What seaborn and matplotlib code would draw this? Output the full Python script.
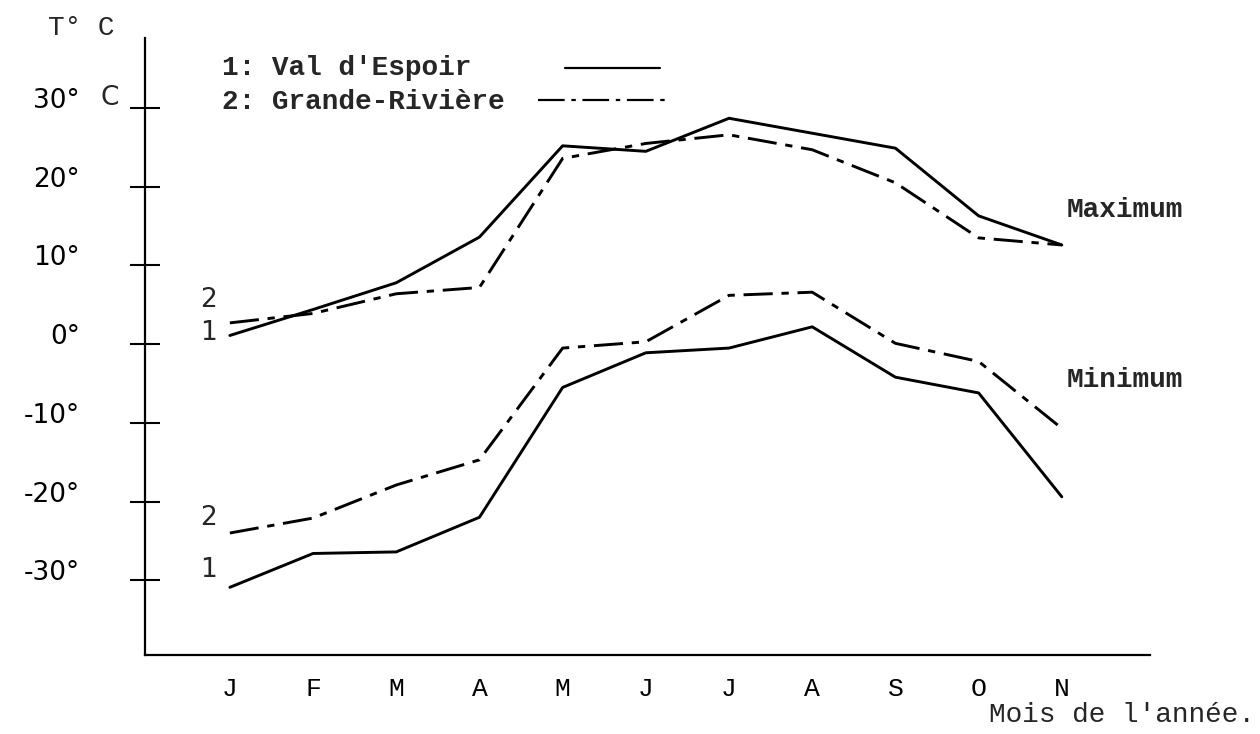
import matplotlib
matplotlib.use("Agg")
import matplotlib.pyplot as plt
import pandas as pd
import seaborn as sns

# Data (degrees C), months Jan..Nov
months = ['J', 'F', 'M', 'A', 'M', 'J', 'J', 'A', 'S', 'O', 'N']
max_val_espoir = [1.1, 4.4, 7.8, 13.6, 25.2, 24.5, 28.7, 26.8, 24.9, 16.3, 12.6]
max_grande_riviere = [2.7, 3.9, 6.4, 7.2, 23.6, 25.5, 26.6, 24.7, 20.5, 13.5, 12.6]
min_val_espoir = [-30.9, -26.6, -26.4, -22.0, -5.5, -1.1, -0.5, 2.2, -4.2, -6.2, -19.4]
min_grande_riviere = [-24.0, -22.1, -17.9, -14.7, -0.5, 0.3, 6.2, 6.6, 0.1, -2.2, -10.7]
ytick_vals = [-30, -20, -10, 0, 10, 20, 30]
ytick_labels = ['-30°', '-20°', '-10°', '0°', '10°', '20°', '30°']

rows = []
for station, kind, vals in [('1', 'max', max_val_espoir), ('2', 'max', max_grande_riviere),
                            ('1', 'min', min_val_espoir), ('2', 'min', min_grande_riviere)]:
    for i, v in enumerate(vals):
        rows.append({'pos': i, 'temp': v, 'station': station, 'kind': kind})
df = pd.DataFrame(rows)

sns.set_style('white')
mono = ['Liberation Mono', 'DejaVu Sans Mono']
sans = ['DejaVu Sans']

W, H = 1260, 734
fig = plt.figure(figsize=(12.6, 7.34), dpi=100)
ax = fig.add_axes([145 / W, 1 - 655 / H, (1150 - 145) / W, (655 - 38) / H])

sns.lineplot(data=df, x='pos', y='temp', style='station', units='kind', estimator=None,
             dashes={'1': '', '2': (10, 3, 2.5, 3)}, color='black', linewidth=2.1,
             legend=False, ax=ax)

ax.set_xlim(-1.02, 11.06)
ax.set_ylim(-39.5, 38.9)
for s in ['top', 'right']:
    ax.spines[s].set_visible(False)
for s in ['left', 'bottom']:
    ax.spines[s].set_linewidth(1.6)
    ax.spines[s].set_color('black')

ax.set_yticks(ytick_vals)
ax.set_yticklabels(ytick_labels, fontsize=19, family=sans, va='baseline', color='black')
ax.tick_params(axis='y', left=True, direction='inout', length=22, width=1.5, pad=36,
               color='black')
ax.set_xticks(range(len(months)))
ax.set_xticklabels(months, fontsize=19, family=mono, color='black')
ax.tick_params(axis='x', bottom=False, length=0, pad=16)
ax.set_xlabel('')
ax.set_ylabel('')

def fx(px):
    return px / W

def fy(py):
    return 1 - py / H

# axis titles
fig.text(fx(81), fy(28), 'T° C', fontsize=20, family=mono, ha='center', va='center')
fig.text(fx(100), fy(105), 'C', fontsize=19, family=sans, ha='left', va='baseline')
fig.text(fx(1255), fy(715), "Mois de l'année.", fontsize=20, family=mono,
         ha='right', va='center')

# legend drawn by hand
fig.text(fx(222), fy(68), "1: Val d'Espoir", fontsize=20, family=mono, fontweight='bold',
         va='center')
fig.text(fx(222), fy(102), "2: Grande-Rivière", fontsize=20, family=mono, fontweight='bold',
         va='center')
fig.add_artist(plt.Line2D([fx(565), fx(660)], [fy(68)] * 2, color='black', lw=1.6))
fig.add_artist(plt.Line2D([fx(538), fx(668)], [fy(100)] * 2, color='black', lw=1.6,
                          dashes=(12, 3, 2, 3)))

# series labels
for txt, y in [('2', 5.6), ('1', 1.4), ('2', -22.1), ('1', -28.7)]:
    ax.text(-0.16, y, txt, fontsize=19, family=sans, ha='right', va='center')
ax.text(10.06, 17.0, 'Maximum', fontsize=20, family=mono, fontweight='bold',
        ha='left', va='center')
ax.text(10.06, -4.6, 'Minimum', fontsize=20, family=mono, fontweight='bold',
        ha='left', va='center')

fig.savefig('out.png', dpi=100)
